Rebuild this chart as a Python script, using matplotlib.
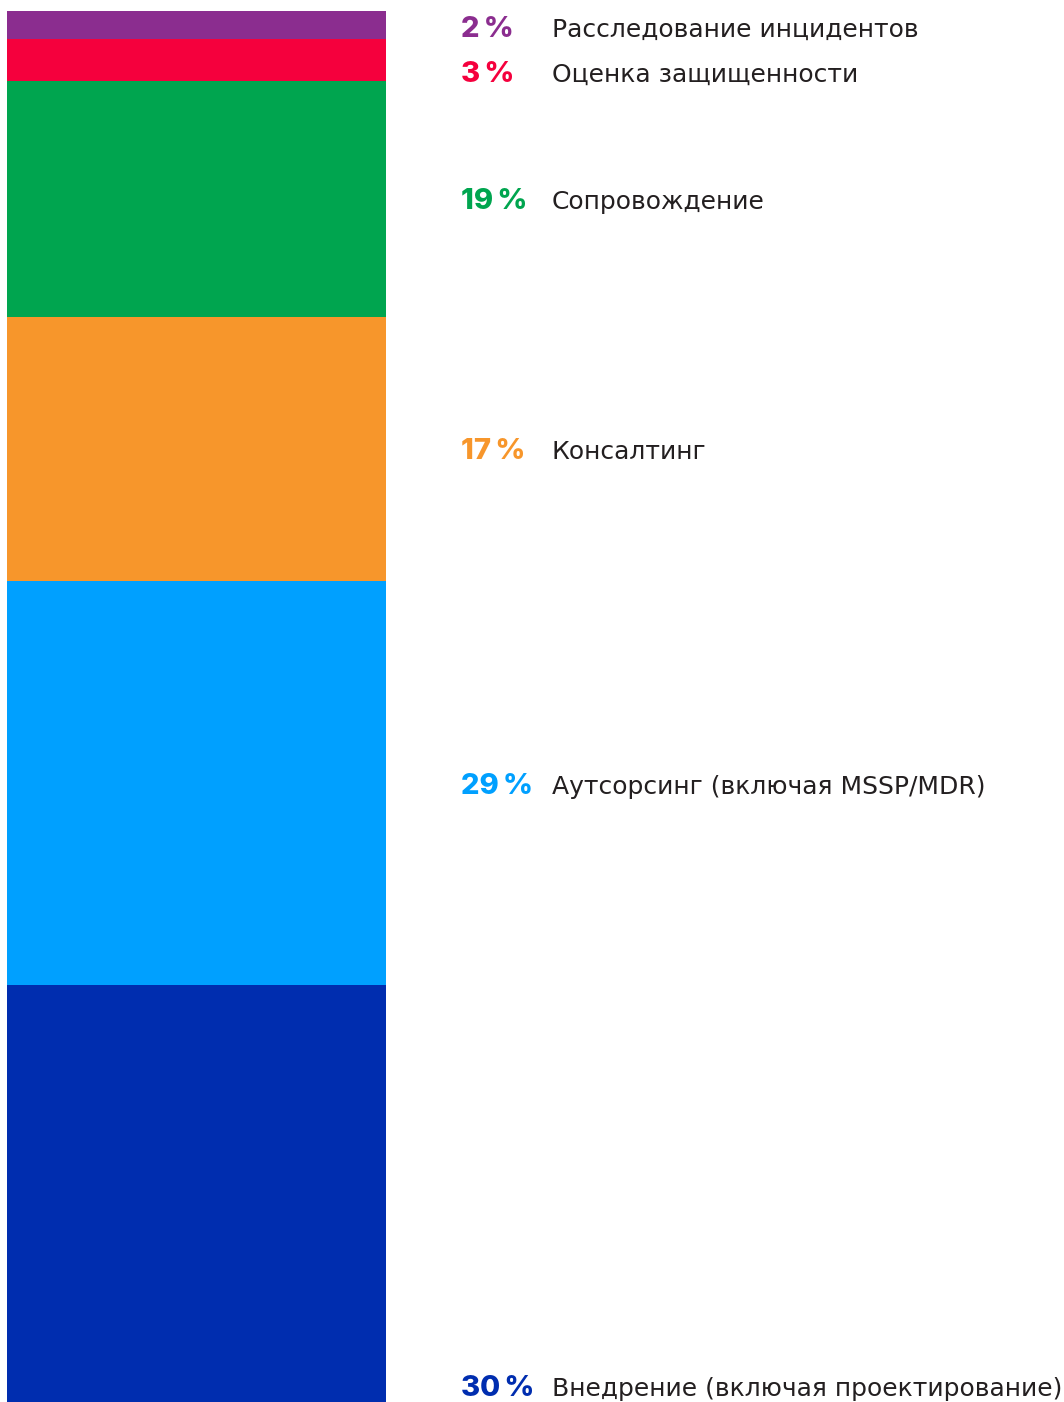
import numpy as np
import matplotlib.pyplot as plt
from matplotlib.transforms import blended_transform_factory

# data (top to bottom), bar heights as drawn in the picture
categories = ['Расследование инцидентов', 'Оценка защищенности', 'Сопровождение',
              'Консалтинг', 'Аутсорсинг (включая MSSP/MDR)',
              'Внедрение (включая проектирование)']
shares = [2, 3, 17, 19, 29, 30]
pct_labels = [2, 3, 19, 17, 29, 30]
colors = ['#8B2D8F', '#F5003D', '#00A54F', '#F7962B', '#00A0FF', '#002DAF']

# baseline offsets from segment middle (layout only)
nudge = [0.89, 1.6, 0.73, 0.7, 0.8, 14.57]

W, H = 1064, 1402
fig = plt.figure(figsize=(W / 100, H / 100), dpi=100)
ax = fig.add_axes([7 / W, 0, (386 - 7) / W, (H - 11) / H])

bottoms = np.concatenate([[0], np.cumsum(shares)[:-1]])
ax.bar(0, shares, bottom=bottoms, width=1.0, color=colors, linewidth=0)
ax.set_xlim(-0.5, 0.5)
ax.set_ylim(100, 0)
ax.axis('off')

trans = blended_transform_factory(fig.transFigure, ax.transData)
for i in range(len(shares)):
    y = bottoms[i] + shares[i] / 2 + nudge[i]
    fig.text(461 / W, y, f'{pct_labels[i]}\u2009%', transform=trans,
             color=colors[i], fontsize=21, fontweight='heavy',
             family=['Inter', 'DejaVu Sans'], va='baseline', ha='left')
    fig.text(552 / W, y, categories[i], transform=trans, color='#231F20',
             fontsize=18, family=['DejaVu Sans'], va='baseline', ha='left')

fig.savefig('out.png', dpi=100)
